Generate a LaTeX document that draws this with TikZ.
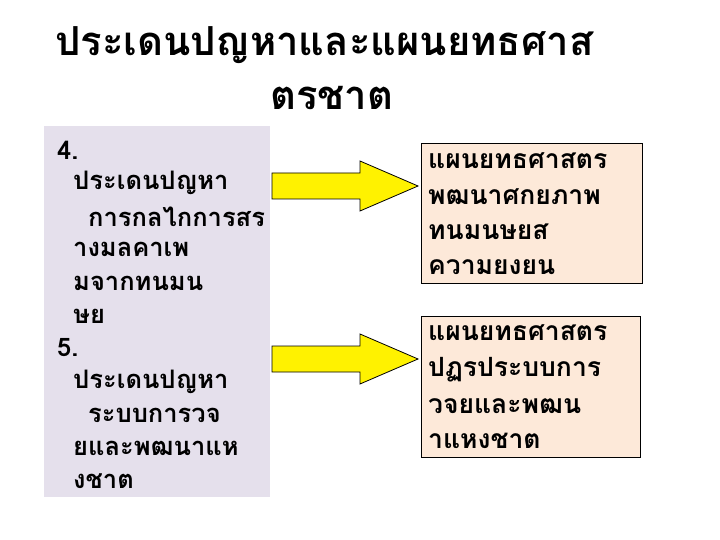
\documentclass[tikz,border=0pt]{standalone}
\usepackage{fontspec}
\newfontfamily\thaifont[Script=Thai]{Loma}
\begin{document}
\begin{tikzpicture}[x=1pt,y=-1pt,
  lbox/.style={draw=none,fill=left},
  rbox/.style={draw=black,line width=0.8pt,fill=rightc},
  ln/.style={anchor=west,inner sep=0pt,font=\thaifont\bfseries\fontsize{25.5}{26}\selectfont},
  rn/.style={anchor=west,inner sep=0pt,font=\thaifont\bfseries\fontsize{26.5}{27}\selectfont},
  arr/.style={draw=black,line width=0.8pt,fill=yellow}]
\definecolor{left}{HTML}{E5E0EC}
\definecolor{rightc}{HTML}{FDE9D9}
\useasboundingbox (0,0) rectangle (720,540);
\fill[white] (0,0) rectangle (720,540);
\node[anchor=west,inner sep=0pt,font=\thaifont\bfseries\fontsize{40}{40}\selectfont] (t1) at (55,45) {ประเดนปญหาและแผนยทธศาส};
\node[anchor=west,inner sep=0pt,font=\thaifont\bfseries\fontsize{40}{40}\selectfont] (t2) at (270,98) {ตรชาต};
\path[lbox] (44,126) rectangle (270,497);
\node[ln] (a1) at (57,150) {4.};
\node[ln] (a2) at (73,183) {ประเดนปญหา};
\node[ln] (a3) at (88,217) {การกลไกการสร};
\node[ln] (a4) at (73,249) {างมลคาเพ};
\node[ln] (a5) at (73,283) {มจากทนมน};
\node[ln] (a6) at (73,316) {ษย};
\node[ln] (a7) at (57,348) {5.};
\node[ln] (a8) at (73,382) {ประเดนปญหา};
\node[ln] (a9) at (88,415) {ระบบการวจ};
\node[ln] (a10) at (73,448) {ยและพฒนาแห};
\node[ln] (a11) at (73,481) {งชาต};
\path[rbox] (421,143) rectangle (642,283);
\path[rbox] (421,316) rectangle (640,457);
\node[rn] (b1) at (428,161) {แผนยทธศาสตร};
\node[rn] (b2) at (428,197) {พฒนาศกยภาพ};
\node[rn] (b3) at (428,232) {ทนมนษยส};
\node[rn] (b4) at (428,267) {ความยงยน};
\node[rn] (c1) at (428,333) {แผนยทธศาสตร};
\node[rn] (c2) at (428,370) {ปฏรประบบการ};
\node[rn] (c3) at (428,406) {วจยและพฒน};
\node[rn] (c4) at (428,441) {าแหงชาต};
\path[arr] (272,173) -- (360,173) -- (360,161) -- (418,186) -- (360,211) -- (360,199) -- (272,199) -- cycle;
\path[arr] (272,346) -- (360,346) -- (360,334) -- (418,359) -- (360,384) -- (360,372) -- (272,372) -- cycle;
\end{tikzpicture}
\end{document}
